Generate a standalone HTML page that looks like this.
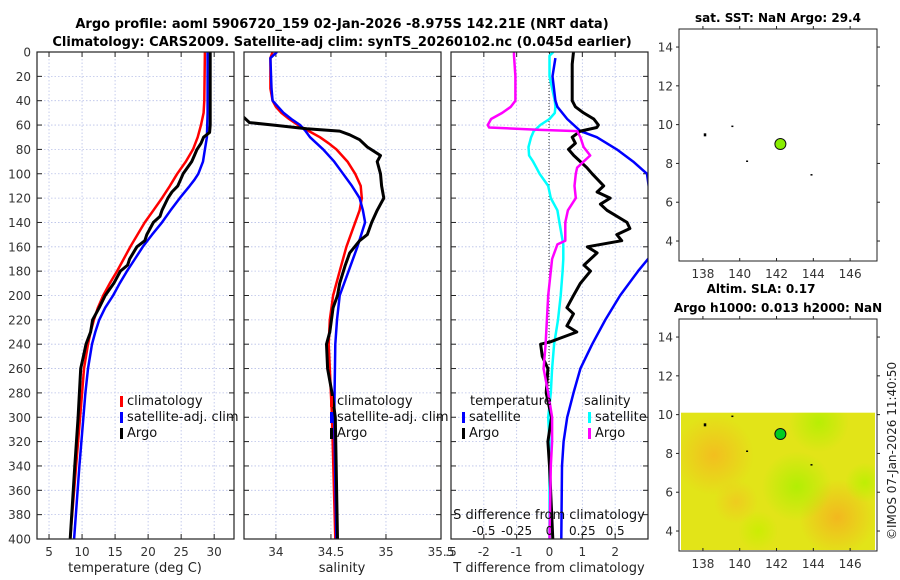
<!DOCTYPE html>
<html><head><meta charset="utf-8">
<style>
html,body{margin:0;padding:0;background:#fff;}
svg{display:block;font-family:"DejaVu Sans","Liberation Sans",sans-serif;}
</style></head>
<body>
<svg id="fig" width="900" height="580" viewBox="0 0 900 580" xmlns="http://www.w3.org/2000/svg">
<text x="342" y="28" text-anchor="middle" font-size="13" font-weight="bold">Argo profile: aoml 5906720_159 02-Jan-2026 -8.975S 142.21E (NRT data)</text>
<text x="342" y="46" text-anchor="middle" font-size="13" font-weight="bold">Climatology: CARS2009. Satellite-adj clim: synTS_20260102.nc (0.045d earlier)</text>
<text x="778" y="22" text-anchor="middle" font-size="12" font-weight="bold">sat. SST: NaN Argo: 29.4</text>
<text x="761" y="293" text-anchor="middle" font-size="12" font-weight="bold">Altim. SLA: 0.17</text>
<text x="778" y="312" text-anchor="middle" font-size="12" font-weight="bold">Argo h1000: 0.013 h2000: NaN</text>
<text transform="translate(896,540) rotate(-90)" font-size="12" fill="#222">©IMOS 07-Jan-2026 11:40:50</text>
<g id="plots"></g>
</svg>
<script>
// ---- data ----
const depthT = [0,40,50,60,70,80,90,100,110,120,130,140,150,160,170,180,190,200,210,220,230,240,260,280,300,340,400];
const tempClim = [28.6,28.5,28.4,28.0,27.5,26.8,25.7,24.4,23.3,22.1,20.8,19.5,18.4,17.3,16.3,15.3,14.2,13.2,12.4,11.8,11.3,10.9,10.3,10.0,9.7,9.1,8.2];
const depthTS = [0,50,70,80,90,100,105,110,120,130,140,150,160,170,180,190,200,210,220,230,240,260,280,300,340,400];
const tempSat = [29.0,29.0,28.9,28.6,28.3,27.6,27.0,26.3,24.8,23.4,22.1,20.6,19.2,18.0,16.8,15.7,14.7,13.5,12.6,12.0,11.5,10.9,10.5,10.2,9.6,8.8];
const depthArgo = [0,20,40,60,66,70,75,80,85,90,100,105,110,115,120,130,135,140,150,155,160,170,175,180,190,200,210,220,230,240,250,260,280,300,340,400];
const tempArgo = [29.4,29.4,29.4,29.4,29.3,28.4,28.0,27.4,27.0,26.6,25.3,24.9,24.5,23.6,23.0,22.1,21.8,20.8,19.8,19.5,18.3,17.2,16.9,15.8,14.8,13.5,12.6,11.6,11.3,10.6,10.2,9.8,9.6,9.4,8.9,8.2];
const depthS = [0,5,30,40,45,50,55,60,65,70,75,80,90,100,110,120,130,140,160,180,200,220,240,300,400];
const salClim = [33.97,33.95,33.95,33.97,34.0,34.05,34.12,34.2,34.3,34.4,34.48,34.55,34.65,34.72,34.77,34.78,34.76,34.72,34.64,34.58,34.52,34.49,34.48,34.51,34.54];
const salSat = [34.01,33.95,33.96,33.97,34.02,34.07,34.14,34.22,34.27,34.31,34.37,34.43,34.53,34.61,34.69,34.76,34.79,34.81,34.74,34.66,34.58,34.555,34.54,34.53,34.55];
const depthSA = [53,58,60,63,65,68,72,78,85,90,100,110,120,130,140,150,155,165,175,190,200,210,230,240,260,280,300,400];
const salArgo = [33.7,33.76,33.97,34.28,34.58,34.67,34.76,34.83,34.95,34.92,34.95,34.96,34.98,34.92,34.87,34.83,34.76,34.67,34.63,34.58,34.56,34.52,34.49,34.46,34.47,34.51,34.54,34.56];
const depthD = [0,3,20,40,45,50,55,60,62,64,65,70,78,85,90,95,100,110,120,130,140,155,158,170,180,200,220,240,260,280,300,320,340,400];
const sdiffArgo = [-0.27,-0.27,-0.26,-0.26,-0.295,-0.36,-0.445,-0.47,-0.46,-0.07,0.21,0.235,0.26,0.31,0.26,0.21,0.2,0.19,0.2,0.14,0.12,0.12,0.06,0.02,0.01,-0.01,-0.02,-0.03,-0.045,-0.01,0.02,0.02,0.01,0.0];
const sdiffSat = [0.03,0.0,0.0,0.04,0.045,0.04,0.0,-0.07,-0.09,-0.11,-0.12,-0.14,-0.16,-0.155,-0.125,-0.1,-0.075,-0.01,0.01,0.06,0.075,0.1,0.105,0.105,0.1,0.085,0.065,0.035,0.02,0.01,-0.01,0.0,0.0,0.0];
const depthTD = [5,20,40,45,55,65,70,80,90,100,165,170,180,200,220,240,260,280,300,320,340,400];
const tdiffSat = [0.18,0.09,0.18,0.24,0.54,0.94,1.44,2.05,2.55,2.97,3.3,3.0,2.7,2.15,1.7,1.3,0.94,0.73,0.54,0.43,0.38,0.36];
const depthTA = [0,10,40,45,50,55,60,62,65,70,75,80,85,90,95,100,110,115,120,125,130,140,145,150,155,160,165,175,180,190,200,210,215,225,230,235,238,240,250,260,280,300,320,340,400];
const tdiffArgo = [0.73,0.69,0.69,0.79,1.04,1.35,1.49,1.44,0.94,0.69,0.79,0.58,0.74,0.94,1.14,1.3,1.65,1.45,1.85,1.55,1.75,2.36,2.45,2.05,2.2,1.15,1.45,1.05,1.25,0.94,0.73,0.53,0.73,0.53,0.83,0.33,0.03,-0.27,-0.22,-0.05,-0.1,0.06,-0.05,0.0,0.1];
const depthTicks = [0,20,40,60,80,100,120,140,160,180,200,220,240,260,280,300,320,340,360,380,400];
const tempTicks = [5,10,15,20,25,30];
const salTicks = [34,34.5,35,35.5];
const tdiffTicks = [-2,-1,0,1,2];
const sdiffTickLabels = ["-0.5","-0.25","0","0.25","0.5"];
const sdiffTickVals = [-0.5,-0.25,0,0.25,0.5];
const lonTicks = [138,140,142,144,146];
const latTicks = [4,6,8,10,12,14];
const floatLon = [142.21];
const floatLat = [9.0];
const islandLon = [138.1,139.6,140.4,143.9];
const islandLat = [9.5,9.9,8.1,7.4];

const NS = "http://www.w3.org/2000/svg";
const root = document.getElementById('plots');
function mk(tag, attrs, parent){ const e=document.createElementNS(NS,tag); for(const k in attrs) e.setAttribute(k,attrs[k]); (parent||root).appendChild(e); return e; }

const Y0=52, Y1=539;
const yD = d => Y0 + (d/400)*(Y1-Y0);
function lin(d0,d1,r0,r1){ return v => r0 + (v-d0)/(d1-d0)*(r1-r0); }

const panels = [
  {x0:37,x1:234,sc:lin(3.18,33,37,234),name:'temperature'},
  {x0:244,x1:441,sc:lin(33.71,35.5,244,441),name:'salinity'},
  {x0:451,x1:648,sc:lin(-3,3,451,648),name:'difference'}
];
const grid = (x1,y1,x2,y2,name) => { const l=mk('line',{x1,y1,x2,y2,stroke:'#b8c0e8','stroke-width':0.8,'stroke-dasharray':'1.5,2'});   };

function line(xs, ds, sc, color, w, name, clip){
  const p = xs.map((v,i)=>sc(v).toFixed(1)+','+yD(ds[i]).toFixed(1)).join(' ');
  const el = mk('polyline',{points:p,fill:'none',stroke:color,'stroke-width':w,'stroke-linejoin':'round'});
  if(clip) el.setAttribute('clip-path','url(#'+clip+')');
  
  
}

const defs = mk('defs',{});
panels.forEach((P,i)=>{
  const cp = mk('clipPath',{id:'cp'+i},defs); mk('rect',{x:P.x0,y:Y0,width:P.x1-P.x0,height:Y1-Y0},cp);
  depthTicks.forEach(d=>{
    grid(P.x0,yD(d),P.x1,yD(d),'depth-gridline');
    const t1=mk('line',{x1:P.x0,y1:yD(d),x2:P.x0+5,y2:yD(d),stroke:'#222'});  
    const t2=mk('line',{x1:P.x1-5,y1:yD(d),x2:P.x1,y2:yD(d),stroke:'#222'});  
    if(i===0){ const tx=mk('text',{x:31,y:yD(d)+4.5,'text-anchor':'end','font-size':12,fill:'#333'}); tx.textContent=d;   }
  });
});
function xticks(P, vals, labels){
  vals.forEach((v,k)=>{
    const x=P.sc(v);
    grid(x,Y0,x,Y1,'x-gridline');
    const a=mk('line',{x1:x,y1:Y1,x2:x,y2:Y1-5,stroke:'#222'});  
    const b=mk('line',{x1:x,y1:Y0,x2:x,y2:Y0+5,stroke:'#222'});  
    const t=mk('text',{x:x,y:556,'text-anchor':'middle','font-size':12,fill:'#333'}); t.textContent=labels?labels[k]:v;
     
  });
}
xticks(panels[0], tempTicks);
xticks(panels[1], salTicks);
xticks(panels[2], tdiffTicks);
{const t=mk('text',{x:451,y:556,'text-anchor':'middle','font-size':12,fill:'#333'}); t.textContent='.5';  }

{const z=mk('line',{x1:549,y1:Y0,x2:549,y2:Y1,stroke:'#333','stroke-width':1,'stroke-dasharray':'1,2'});  }

const P0=panels[0],P1=panels[1],P2=panels[2];
line(tempClim,depthT,P0.sc,'#ff0000',2.5,'temp-climatology-line','cp0');
line(tempSat,depthTS,P0.sc,'#0000ff',2.5,'temp-satellite-line','cp0');
line(tempArgo,depthArgo,P0.sc,'#000',3,'temp-argo-line','cp0');
line(salClim,depthS,P1.sc,'#ff0000',2.5,'sal-climatology-line','cp1');
line(salSat,depthS,P1.sc,'#0000ff',2.5,'sal-satellite-line','cp1');
line(salArgo,depthSA,P1.sc,'#000',3,'sal-argo-line','cp1');
const sdsc = v => P2.sc(v*4);
line(sdiffSat,depthD,sdsc,'#00ffff',2.5,'sdiff-satellite-line','cp2');
line(tdiffSat,depthTD,P2.sc,'#0000ff',2.5,'tdiff-satellite-line','cp2');
line(tdiffArgo,depthTA,P2.sc,'#000',3,'tdiff-argo-line','cp2');
line(sdiffArgo,depthD,sdsc,'#ff00ff',2.5,'sdiff-argo-line','cp2');

panels.forEach(P=>{ const r=mk('rect',{x:P.x0,y:Y0,width:P.x1-P.x0,height:Y1-Y0,fill:'none',stroke:'#222','stroke-width':1.2});   });

[[135,572,'temperature (deg C)','x-axis-title-temperature'],[342,572,'salinity','x-axis-title-salinity'],[549,572,'T difference from climatology','x-axis-title-tdiff']].forEach(a=>{
  const t=mk('text',{x:a[0],y:a[1],'text-anchor':'middle','font-size':13,fill:'#222'}); t.textContent=a[2];  
});
{const t=mk('text',{x:549,y:519,'text-anchor':'middle','font-size':13,fill:'#111'}); t.textContent='S difference from climatology';  }
sdiffTickVals.forEach((v,k)=>{ const t=mk('text',{x:sdsc(v),y:535,'text-anchor':'middle','font-size':12,fill:'#111'}); t.textContent=sdiffTickLabels[k];   });

function legend(x,y,color,label,name){
  const b=mk('rect',{x:x,y:y-9,width:3,height:11,fill:color});  
  const t=mk('text',{x:x+7,y:y,'font-size':13,fill:'#111'}); t.textContent=label;  
}
legend(120,405,'#ff0000','climatology','legend-temp-climatology');
legend(120,421,'#0000ff','satellite-adj. clim','legend-temp-satellite');
legend(120,437,'#000','Argo','legend-temp-argo');
legend(330,405,'#ff0000','climatology','legend-sal-climatology');
legend(330,421,'#0000ff','satellite-adj. clim','legend-sal-satellite');
legend(330,437,'#000','Argo','legend-sal-argo');
{const t=mk('text',{x:470,y:405,'font-size':13,fill:'#111'}); t.textContent='temperature';  }
{const t=mk('text',{x:584,y:405,'font-size':13,fill:'#111'}); t.textContent='salinity';  }
legend(462,421,'#0000ff','satellite','legend-tdiff-satellite');
legend(462,437,'#000','Argo','legend-tdiff-argo');
legend(588,421,'#00ffff','satellite','legend-sdiff-satellite');
legend(588,437,'#ff00ff','Argo','legend-sdiff-argo');

function map(top, name, circleColor, filled){
  const L=679,R=877,T=top,B=top+232;
  const xs=lin(136.7,147.46,L,R), ys=lin(14.93,2.97,T,B);
  if(filled){
    const g=mk('g',{});
     
    const fy=ys(10.1);
    const gd=mk('defs',{},g);
    const blobs=[['o1',138.6,7.9,'#f5b820',40],['o2',145.3,4.7,'#f5b020',38],['o3',139.8,5.5,'#f0c820',22],['g1',143.1,6.3,'#aaf000',35],['g2',144.3,9.6,'#b0f000',30],['g3',146.8,6.5,'#b8f000',20],['g4',141.0,4.0,'#c8ee00',20]];
    mk('rect',{x:L+2,y:fy,width:R-L-4,height:B-fy-1,fill:'#e2e418'},g);
    blobs.forEach(b=>{ const rg=mk('radialGradient',{id:'rg'+b[0]},gd); mk('stop',{offset:'0','stop-color':b[3],'stop-opacity':0.85},rg); mk('stop',{offset:'1','stop-color':b[3],'stop-opacity':0},rg); });
    const cpm=mk('clipPath',{id:'cpm'},gd); mk('rect',{x:L+2,y:fy,width:R-L-4,height:B-fy-1},cpm);
    blobs.forEach(b=>{ mk('circle',{cx:xs(b[1]),cy:ys(b[2]),r:b[4],fill:'url(#rg'+b[0]+')','clip-path':'url(#cpm)'},g); });
  }
  lonTicks.forEach(v=>{
    const x=xs(v);
    mk('line',{x1:x,y1:B,x2:x,y2:B-3,stroke:'#222'});
    mk('line',{x1:x,y1:T,x2:x,y2:T-3,stroke:'#222'});
    const t=mk('text',{x:x,y:B+17,'text-anchor':'middle','font-size':12,fill:'#333'}); t.textContent=v;
     
  });
  latTicks.forEach(v=>{
    const y=ys(v);
    mk('line',{x1:L,y1:y,x2:L-3,y2:y,stroke:'#222'});
    mk('line',{x1:R,y1:y,x2:R+3,y2:y,stroke:'#222'});
    const t=mk('text',{x:673,y:y+4.5,'text-anchor':'end','font-size':12,fill:'#333'}); t.textContent=v;
     
  });
  islandLon.forEach((v,k)=>{ const r=mk('rect',{x:xs(v)-1,y:ys(islandLat[k])-1,width:k===0?2.5:2,height:k===0?3:1.5,fill:'#000'});   });
  floatLon.forEach((v,k)=>{ const c=mk('circle',{cx:xs(v),cy:ys(floatLat[k]),r:5.5,fill:circleColor,stroke:'#111','stroke-width':1});   });
  const fr=mk('rect',{x:L,y:T,width:R-L,height:B-T,fill:'none',stroke:'#222','stroke-width':1});  
}
map(29,'sst-map','#88ee00',false);
map(319,'sla-map','#00cc22',true);
</script>
</body></html>
